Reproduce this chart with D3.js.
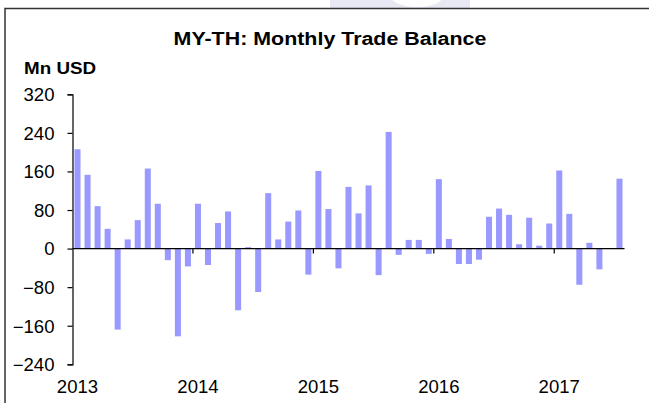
<!DOCTYPE html>
<html>
<head>
<meta charset="utf-8">
<script src="https://cdn.jsdelivr.net/npm/d3@7"></script>
<style>
  html, body { margin: 0; padding: 0; background: #fff; }
  svg { display: block; }
  text { font-family: "Liberation Sans", Arial, sans-serif; fill: #000; }
</style>
</head>
<body>
<svg id="chart" width="649" height="403"></svg>
<script>
// Monthly trade balance, Mn USD, Jan 2013 – Jul 2017
const startYear = 2013;
const startMonth = 0; // January
const balance = [
  206, 153, 88, 41, -168, 19, 59, 166, 93, -24, -182, -37,   // 2013
  93, -34, 53, 77, -128, 3, -90, 115, 19, 56, 79, -54,       // 2014
  161, 82, -41, 128, 73, 131, -55, 242, -13, 18, 18, -11,    // 2015
  144, 20, -32, -32, -23, 66, 83, 70, 9, 64, 6, 52,          // 2016
  162, 72, -75, 12, -43, 0, 145                              // 2017
];
const yTicks = [320, 240, 160, 80, 0, -80, -160, -240];
const yearLabels = [2013, 2014, 2015, 2016, 2017];
const titleText = "MY-TH: Monthly Trade Balance";
const unitText = "Mn USD";

const svg = d3.select("#chart");

// faint backdrop shape along the top edge
svg.append("rect").attr("x", 330).attr("y", 0).attr("width", 140).attr("height", 8)
  .attr("fill", "#e9e9f3");
svg.append("ellipse").attr("cx", 417).attr("cy", -4).attr("rx", 26).attr("ry", 11)
  .attr("fill", "#fff");

// outer frame
svg.append("rect")
  .attr("x", 5).attr("y", 8.5).attr("width", 660).attr("height", 420)
  .attr("fill", "none").attr("stroke", "#333").attr("stroke-width", 1.5);

const plot = { left: 72.5, right: 624.5, top: 94.3, bottom: 364.3 };

const months = balance.map((_, i) => i);
const x = d3.scaleBand()
  .domain(months)
  .range([plot.left, plot.right])
  .paddingInner(0.4)
  .paddingOuter(0.2);

const y = d3.scaleLinear()
  .domain([-240, 320])
  .range([plot.bottom, plot.top]);

// bars
svg.append("g")
  .selectAll("rect")
  .data(balance)
  .join("rect")
  .attr("x", (d, i) => x(i))
  .attr("width", x.bandwidth())
  .attr("y", d => y(Math.max(0, d)))
  .attr("height", d => Math.abs(y(d) - y(0)))
  .attr("fill", "#9999ff");

// y axis
const yAxis = d3.axisLeft(y).tickValues(yTicks).tickSize(5).tickPadding(13)
  .tickFormat(d3.format("d"));
const yg = svg.append("g").attr("transform", `translate(${plot.left},0)`).call(yAxis);
yg.select(".domain").attr("stroke", "#000").attr("stroke-width", 1.2);
yg.selectAll(".tick line").attr("stroke", "#000").attr("stroke-width", 1.2);
yg.selectAll(".tick text")
  .style("font-size", "17.5px")
  .attr("font-family", null)
  .attr("dy", "0.36em");

// zero line with year-boundary ticks
const step = x.step();
const yearX = yr => plot.left + (yr - startYear) * 12 * step - startMonth * step;
svg.append("line")
  .attr("x1", plot.left).attr("x2", plot.right)
  .attr("y1", y(0)).attr("y2", y(0))
  .attr("stroke", "#000").attr("stroke-width", 1.2);
svg.append("g").selectAll("line")
  .data(yearLabels.slice(1))
  .join("line")
  .attr("x1", d => yearX(d)).attr("x2", d => yearX(d))
  .attr("y1", y(0)).attr("y2", y(0) + 5)
  .attr("stroke", "#000").attr("stroke-width", 1.2);

// year labels centred under each January bar
svg.append("g").selectAll("text")
  .data(yearLabels)
  .join("text")
  .attr("x", d => x((d - startYear) * 12) + x.bandwidth() / 2)
  .attr("y", 392.7)
  .attr("text-anchor", "middle")
  .style("font-size", "17.5px")
  .text(d => d);

// title and unit label
svg.append("text")
  .attr("class", "title")
  .attr("x", 330).attr("y", 45)
  .attr("text-anchor", "middle")
  .style("font-size", "18.8px").style("font-weight", "bold")
  .text(titleText);
svg.append("text")
  .attr("class", "unit")
  .attr("x", 24).attr("y", 73.5)
  .style("font-size", "16.5px").style("font-weight", "bold")
  .text(unitText);

// slightly widen glyphs to the wide rendering used in this chart
svg.selectAll("text").each(function () {
  const el = d3.select(this);
  const k = el.classed("title") ? 1.14 : el.classed("unit") ? 1.14 : 1.06;
  const w = this.getComputedTextLength();
  el.attr("textLength", w * k).attr("lengthAdjust", "spacingAndGlyphs");
});
</script>
</body>
</html>
